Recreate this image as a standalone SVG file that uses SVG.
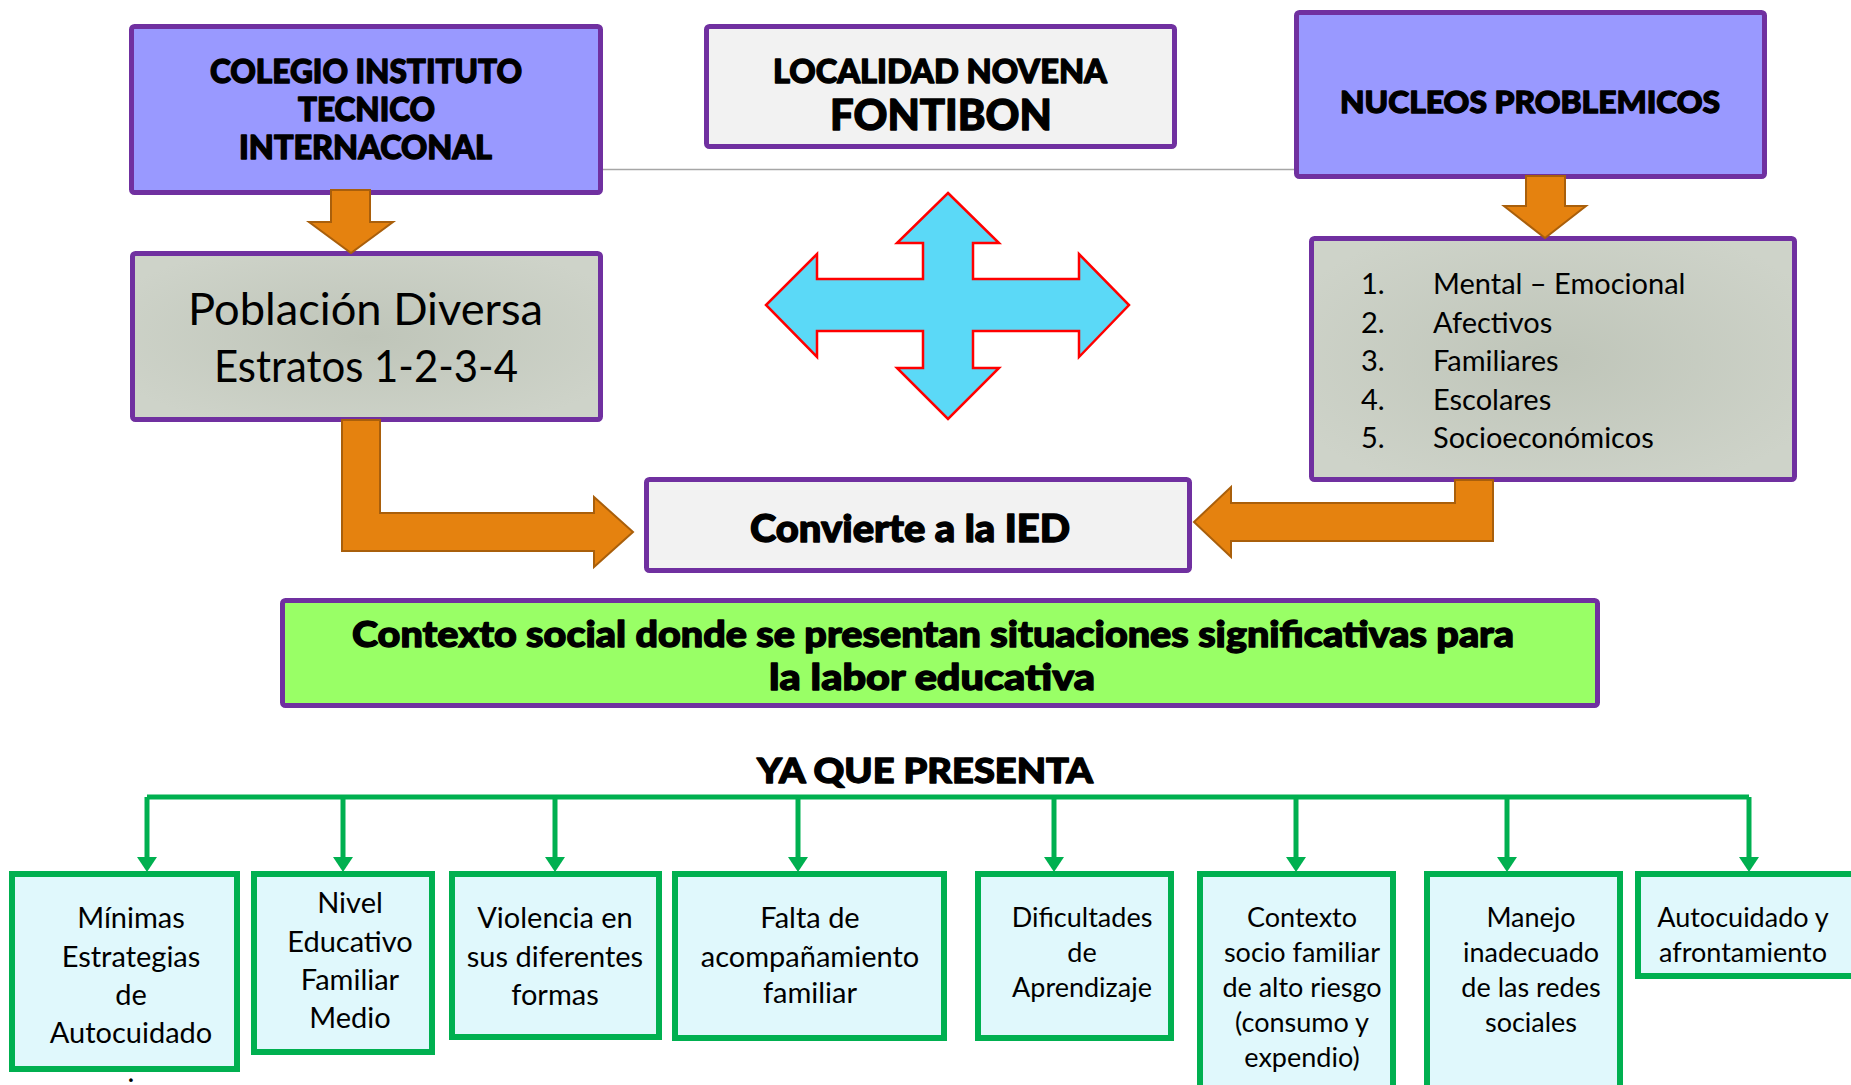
<svg xmlns="http://www.w3.org/2000/svg" width="1851" height="1085" viewBox="0 0 1851 1085">
<defs>
<style>
.pbox{stroke:#7030A0;stroke-width:5;stroke-linejoin:round}
.blue{fill:#9999FF}
.light{fill:#F2F2F2}
.gray{fill:url(#gg)}
.green{fill:#99FF66}
.head{font-family:Lato,"DejaVu Sans",sans-serif;font-weight:900;fill:#000;stroke:#000;stroke-width:1.3;stroke-linejoin:round}
.body{font-family:Lato,"Noto Sans",sans-serif;fill:#000}
.orange{fill:#E5820F;stroke:#A95F0B;stroke-width:2;stroke-linejoin:miter}
.gbox{fill:#E0F8FC;stroke:#00B050;stroke-width:6}
.bus{stroke:#00B050;stroke-width:5;fill:none}
.b30{font-size:29px;text-anchor:middle}
.b28{font-size:27px;text-anchor:middle}
</style>
<radialGradient id="gg" cx="50%" cy="50%" r="60%">
<stop offset="0" stop-color="#BFC5B9"/>
<stop offset="1" stop-color="#CED3C9"/>
</radialGradient>
<marker id="ah" markerUnits="userSpaceOnUse" viewBox="0 0 15 20" refX="0" refY="10" markerWidth="15" markerHeight="20" orient="auto">
<path d="M0,0 L15,10 L0,20 Z" fill="#00B050"/>
</marker>
</defs>
<rect width="1851" height="1085" fill="#FFFFFF"/>

<g id="connectors">
<line x1="601" y1="169.5" x2="1296" y2="169.5" stroke="#A6A6A6" stroke-width="1.5"/>
<path class="bus" d="M147,797 H1749"/>
<path class="bus" d="M147,797 V857" marker-end="url(#ah)"/>
<path class="bus" d="M343,797 V857" marker-end="url(#ah)"/>
<path class="bus" d="M555,797 V857" marker-end="url(#ah)"/>
<path class="bus" d="M798,797 V857" marker-end="url(#ah)"/>
<path class="bus" d="M1054,797 V857" marker-end="url(#ah)"/>
<path class="bus" d="M1296,797 V857" marker-end="url(#ah)"/>
<path class="bus" d="M1507,797 V857" marker-end="url(#ah)"/>
<path class="bus" d="M1749,797 V857" marker-end="url(#ah)"/>
</g>

<g id="colegio">
<rect class="pbox blue" x="131.5" y="26.5" width="469" height="166" rx="3"/>
<text class="head" font-size="32" x="210" y="83" textLength="312" lengthAdjust="spacingAndGlyphs">COLEGIO INSTITUTO</text>
<text class="head" font-size="32" x="298" y="121" textLength="137" lengthAdjust="spacingAndGlyphs">TECNICO</text>
<text class="head" font-size="32" x="239" y="159" textLength="253" lengthAdjust="spacingAndGlyphs">INTERNACONAL</text>
</g>

<g id="localidad">
<rect class="pbox light" x="706.5" y="26.5" width="468" height="120" rx="3"/>
<text class="head" font-size="32" x="773" y="83" textLength="334" lengthAdjust="spacingAndGlyphs">LOCALIDAD NOVENA</text>
<text class="head" font-size="42" x="830" y="130" textLength="222" lengthAdjust="spacingAndGlyphs">FONTIBON</text>
</g>

<g id="nucleos">
<rect class="pbox blue" x="1296.5" y="12.5" width="468" height="164" rx="3"/>
<text class="head" font-size="31" x="1340" y="113" textLength="380" lengthAdjust="spacingAndGlyphs">NUCLEOS PROBLEMICOS</text>
</g>

<g id="poblacion">
<rect class="pbox gray" x="132.5" y="253.5" width="468" height="166" rx="3"/>
<text class="body" font-size="45" x="188" y="325" textLength="355" lengthAdjust="spacingAndGlyphs">Población Diversa</text>
<text class="body" font-size="45" x="214" y="382" textLength="304" lengthAdjust="spacingAndGlyphs">Estratos 1-2-3-4</text>
</g>

<g id="lista">
<rect class="pbox gray" x="1311.5" y="238.5" width="483" height="241" rx="3"/>
<g class="body" font-size="29">
<text x="1361" y="294">1.</text><text x="1433" y="294">Mental – Emocional</text>
<text x="1361" y="333">2.</text><text x="1433" y="333">Afectivos</text>
<text x="1361" y="371">3.</text><text x="1433" y="371">Familiares</text>
<text x="1361" y="410">4.</text><text x="1433" y="410">Escolares</text>
<text x="1361" y="448">5.</text><text x="1433" y="448">Socioeconómicos</text>
</g>
</g>

<g id="convierte">
<rect class="pbox light" x="646.5" y="479.5" width="543" height="91" rx="3"/>
<text class="head" font-size="37" x="750" y="542" textLength="320" lengthAdjust="spacingAndGlyphs">Convierte a la IED</text>
</g>

<g id="contexto">
<rect class="pbox green" x="282.5" y="600.5" width="1315" height="105" rx="3"/>
<text class="head" font-size="36" x="352" y="647" textLength="1162" lengthAdjust="spacingAndGlyphs">Contexto social donde se presentan situaciones significativas para</text>
<text class="head" font-size="36" x="769" y="690" textLength="326" lengthAdjust="spacingAndGlyphs">la labor educativa</text>
</g>

<g id="arrows">
<polygon class="orange" points="331,190 370,190 370,222 393,222 351,253 309,222 331,222"/>
<polygon class="orange" points="1526,176 1565,176 1565,206 1586,206 1545,238 1504,206 1526,206"/>
<polygon class="orange" points="342,420 380,420 380,513 594,513 594,497 633,532 594,567 594,551 342,551"/>
<polygon class="orange" points="1455,480 1493,480 1493,541 1231,541 1231,557 1194,522 1231,487 1231,503 1455,503"/>
<polygon fill="#5BD9F7" stroke="#FF0000" stroke-width="2.5" stroke-linejoin="miter" points="948,193 999,243 973,243 973,279 1079,279 1079,254 1129,305 1079,357 1079,331 973,331 973,368 999,368 948,419 897,368 923,368 923,331 817,331 817,357 766,305 817,254 817,279 923,279 923,243 897,243"/>
</g>

<g id="ya-que-presenta">
<text class="head" font-size="35" x="757" y="783" textLength="336" lengthAdjust="spacingAndGlyphs">YA QUE PRESENTA</text>
</g>

<g id="n1">
<rect class="gbox" x="12" y="874" width="225" height="195"/>
<text class="body b30" x="131" y="928">Mínimas</text>
<text class="body b30" x="131" y="967">Estrategias</text>
<text class="body b30" x="131" y="1005">de</text>
<text class="body b30" x="131" y="1043">Autocuidado</text>
<text class="body b30" x="131" y="1082">.</text>
</g>
<g id="n2">
<rect class="gbox" x="254" y="874" width="178" height="178"/>
<text class="body b30" x="350" y="913">Nivel</text>
<text class="body b30" x="350" y="952">Educativo</text>
<text class="body b30" x="350" y="990">Familiar</text>
<text class="body b30" x="350" y="1028">Medio</text>
</g>
<g id="n3">
<rect class="gbox" x="452" y="874" width="207" height="163"/>
<text class="body b30" x="555" y="928">Violencia en</text>
<text class="body b30" x="555" y="967">sus diferentes</text>
<text class="body b30" x="555" y="1005">formas</text>
</g>
<g id="n4">
<rect class="gbox" x="675" y="874" width="269" height="164"/>
<text class="body b30" x="810" y="928">Falta de</text>
<text class="body b30" x="810" y="967">acompañamiento</text>
<text class="body b30" x="810" y="1003">familiar</text>
</g>
<g id="n5">
<rect class="gbox" x="978" y="874" width="193" height="164"/>
<text class="body b28" x="1082" y="927">Dificultades</text>
<text class="body b28" x="1082" y="962">de</text>
<text class="body b28" x="1082" y="997">Aprendizaje</text>
</g>
<g id="n6">
<rect class="gbox" x="1200" y="874" width="193" height="230"/>
<text class="body b28" x="1302" y="927">Contexto</text>
<text class="body b28" x="1302" y="962">socio familiar</text>
<text class="body b28" x="1302" y="997">de alto riesgo</text>
<text class="body b28" x="1302" y="1032">(consumo y</text>
<text class="body b28" x="1302" y="1067">expendio)</text>
</g>
<g id="n7">
<rect class="gbox" x="1427" y="874" width="193" height="230"/>
<text class="body b28" x="1531" y="927">Manejo</text>
<text class="body b28" x="1531" y="962">inadecuado</text>
<text class="body b28" x="1531" y="997">de las redes</text>
<text class="body b28" x="1531" y="1032">sociales</text>
</g>
<g id="n8">
<rect class="gbox" x="1638" y="874" width="230" height="102"/>
<text class="body b28" x="1743" y="927">Autocuidado y</text>
<text class="body b28" x="1743" y="962">afrontamiento</text>
</g>
</svg>
